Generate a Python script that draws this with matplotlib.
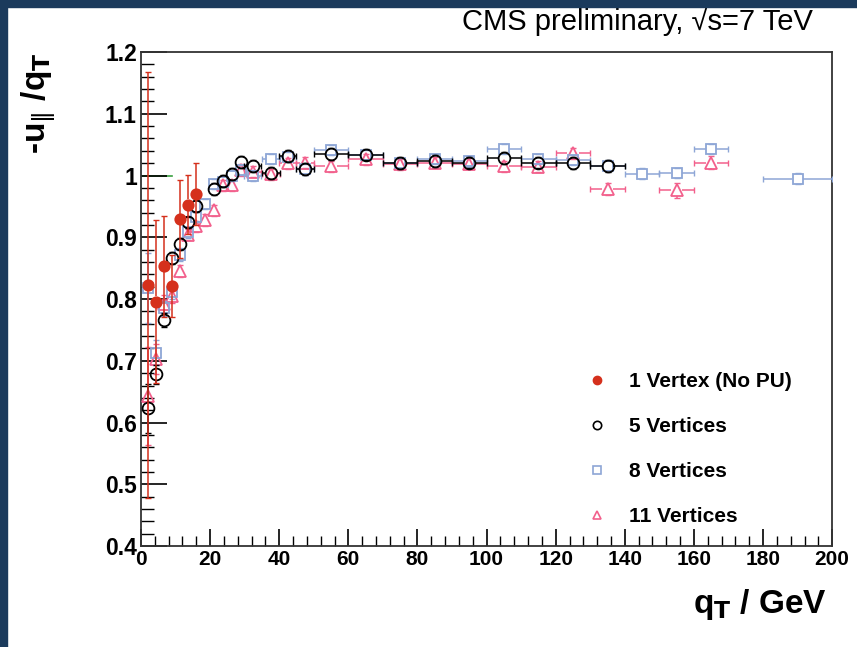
import numpy as np
import matplotlib.pyplot as plt
from matplotlib.lines import Line2D
from matplotlib.patches import Rectangle
from matplotlib.ticker import MultipleLocator

plt.rcParams['font.family'] = ['Liberation Sans', 'DejaVu Sans']

# bin centres (GeV) and half widths
qt = [2.0, 4.3, 6.6, 8.9, 11.3, 13.6, 16.0, 18.4, 21.2, 23.6, 26.2, 28.9,
      32.3, 37.6, 42.5, 47.5, 55, 65, 75, 85, 95, 105, 115, 125, 135, 145,
      155, 165, 190]
qt_half = [1.25] * 12 + [2.5] * 4 + [5] * 12 + [10]

# 1 vertex (no PU)
v1_x = [2.0, 4.3, 6.6, 8.9, 11.3, 13.6, 16.0]
v1_y = [0.823, 0.796, 0.853, 0.821, 0.930, 0.953, 0.970]
v1_err = [0.345, 0.132, 0.082, 0.05, 0.063, 0.048, 0.05]

# 5 vertices
v5_x = [2.0, 4.3, 6.6, 8.9, 11.3, 13.6, 16.0, 21.2, 23.6, 26.2, 28.9, 32.3,
        37.6, 42.5, 47.5, 55, 65, 75, 85, 95, 105, 115, 125, 135]
v5_y = [0.623, 0.678, 0.766, 0.866, 0.889, 0.924, 0.951, 0.978, 0.991, 1.003,
        1.022, 1.015, 1.004, 1.032, 1.010, 1.035, 1.034, 1.020, 1.024, 1.021,
        1.028, 1.021, 1.020, 1.016]
v5_err = [0.04, 0.015, 0.012, 0.01, 0.008, 0.008, 0.008, 0.006, 0.006, 0.006,
          0.006, 0.006, 0.006, 0.006, 0.006, 0.006, 0.006, 0.006, 0.006, 0.006,
          0.006, 0.006, 0.007, 0.008]

# 8 vertices
v8_x = qt
v8_y = [0.818, 0.713, 0.785, 0.812, 0.872, 0.908, 0.933, 0.954, 0.986, 0.990,
        1.000, 1.009, 1.000, 1.027, 1.030, 1.010, 1.041, 1.033, 1.020, 1.027,
        1.023, 1.043, 1.027, 1.025, 1.016, 1.003, 1.004, 1.043, 0.995]
v8_err = [0.057, 0.02, 0.012, 0.012, 0.01, 0.008, 0.008, 0.008, 0.006, 0.006,
          0.006, 0.006, 0.006, 0.006, 0.006, 0.006, 0.006, 0.006, 0.006, 0.006,
          0.006, 0.006, 0.006, 0.006, 0.007, 0.007, 0.008, 0.008, 0.006]

# 11 vertices
v11_x = [2.0, 4.3, 6.6, 8.9, 11.3, 13.6, 16.0, 18.4, 21.2, 23.6, 26.2, 28.9,
         32.3, 37.6, 42.5, 47.5, 55, 65, 75, 85, 95, 105, 115, 125, 135, 155, 165]
v11_y = [0.643, 0.703, 0.792, 0.805, 0.845, 0.904, 0.918, 0.928, 0.944, 0.984,
         0.984, 1.009, 1.006, 1.002, 1.020, 1.021, 1.015, 1.026, 1.018, 1.021,
         1.019, 1.015, 1.014, 1.036, 0.978, 0.976, 1.021]
v11_err = [0.08, 0.025, 0.014, 0.012, 0.01, 0.008, 0.008, 0.008, 0.008, 0.006,
           0.006, 0.006, 0.006, 0.006, 0.006, 0.006, 0.006, 0.006, 0.006, 0.006,
           0.006, 0.007, 0.007, 0.008, 0.01, 0.012, 0.01]

# green reference mark at 1
ref_x = [0, 9]
ref_y = [1.0, 1.0]

RED = '#d5301c'
BLUE = '#8ea6d6'
PINK = '#f2608c'

half = dict(zip(qt, qt_half))

fig = plt.figure(figsize=(8.57, 6.47), dpi=100)
ax = fig.add_axes([0.1645, 0.156, 0.8065, 0.7636])
ax.set_xlim(0, 200)
ax.set_ylim(0.4, 1.2)

# pixels per data unit, to keep error bars outside the hollow markers (ROOT style)
PX_X = 0.8065 * 857 / 200
PX_Y = 0.7636 * 647 / 0.8

ax.plot(ref_x, ref_y, color='#3aa040', lw=1.2, zorder=1)


def draw(x, y, err, marker, color, face, ms, z, xe=True):
    x = np.asarray(x, float)
    y = np.asarray(y, float)
    err = np.asarray(err, float)
    r = ms / 2 * 100 / 72
    gy = r / PX_Y
    gx = r / PX_X
    kw = dict(color=color, lw=1.1, zorder=z)
    ytop = y + np.maximum(err, gy)
    ybot = y - np.maximum(err, gy)
    ax.vlines(x, y + gy, ytop, **kw)
    ax.vlines(x, ybot, y - gy, **kw)
    ax.plot(x, ytop, ls='none', marker='_', ms=4.5, mew=1.0, color=color, zorder=z)
    ax.plot(x, ybot, ls='none', marker='_', ms=4.5, mew=1.0, color=color, zorder=z)
    if xe:
        xerr = np.array([half[v] for v in x])
        m = xerr > gx
        ax.hlines(y[m], x[m] + gx, x[m] + xerr[m], **kw)
        ax.hlines(y[m], x[m] - xerr[m], x[m] - gx, **kw)
        ax.plot(x[m] + xerr[m], y[m], ls='none', marker='|', ms=4.5, mew=1.0,
                color=color, zorder=z)
        ax.plot(x[m] - xerr[m], y[m], ls='none', marker='|', ms=4.5, mew=1.0,
                color=color, zorder=z)
    ax.plot(x, y, ls='none', marker=marker, mfc=face, mec=color, ms=ms, mew=1.3,
            zorder=z)


draw(v11_x, v11_y, v11_err, '^', PINK, 'none', 8, 3)
draw(v8_x, v8_y, v8_err, 's', BLUE, 'none', 7.5, 4)
draw(v5_x, v5_y, v5_err, 'o', 'black', 'none', 8.5, 5)
draw(v1_x, v1_y, v1_err, 'o', RED, RED, 7.5, 6, xe=False)

ax.xaxis.set_major_locator(MultipleLocator(20))
ax.xaxis.set_minor_locator(MultipleLocator(4))
ax.yaxis.set_minor_locator(MultipleLocator(0.02))
ax.set_yticks(np.arange(0.4, 1.21, 0.1))
ax.set_yticklabels(['0.4', '0.5', '0.6', '0.7', '0.8', '0.9', '1', '1.1', '1.2'])
ax.tick_params(which='major', direction='in', length=19, width=1.2, pad=3)
ax.tick_params(which='minor', direction='in', length=9, width=1.0)
ax.tick_params(axis='x', which='major', length=12, labelsize=15)
ax.tick_params(axis='x', which='minor', length=7)
ax.tick_params(axis='y', which='major', labelsize=16.5)
for lab in ax.get_xticklabels() + ax.get_yticklabels():
    lab.set_fontweight('bold')
for s in ax.spines.values():
    s.set_linewidth(1.3)
    s.set_color('#333333')

fig.text(0.948, 1 - 30 / 647, 'CMS preliminary, \u221as=7 TeV', ha='right',
         va='baseline', fontsize=21)
fig.text(0.965, 0.052, r'q$_{\mathbf{T}}$ / GeV', ha='right', va='baseline',
         fontsize=24, fontweight='bold')
fig.text(0.045, 0.84, r'-u$_{\|}$ /q$_{\mathbf{T}}$', rotation=90, ha='center',
         va='center', fontsize=24, fontweight='bold')

handles = [
    Line2D([], [], ls='none', marker='o', color=RED, ms=6),
    Line2D([], [], ls='none', marker='o', mfc='none', mec='black', ms=6, mew=1.2),
    Line2D([], [], ls='none', marker='s', mfc='none', mec=BLUE, ms=6, mew=1.2),
    Line2D([], [], ls='none', marker='^', mfc='none', mec=PINK, ms=6, mew=1.2),
]
labels = ['1 Vertex (No PU)', '5 Vertices', '8 Vertices', '11 Vertices']
ax.legend(handles, labels, loc='upper left', bbox_to_anchor=(0.615, 0.39),
          frameon=False, prop={'weight': 'bold', 'size': 15},
          labelspacing=1.25, handletextpad=0.9, handlelength=1.2)

# slide frame
fig.patches.append(Rectangle((0, 0), 7 / 857, 1, transform=fig.transFigure,
                             color='#1b3a5c', zorder=10))
fig.patches.append(Rectangle((0, 1 - 7 / 647), 1, 7 / 647, transform=fig.transFigure,
                             color='#1b3a5c', zorder=10))

fig.savefig('out.png', dpi=100)
